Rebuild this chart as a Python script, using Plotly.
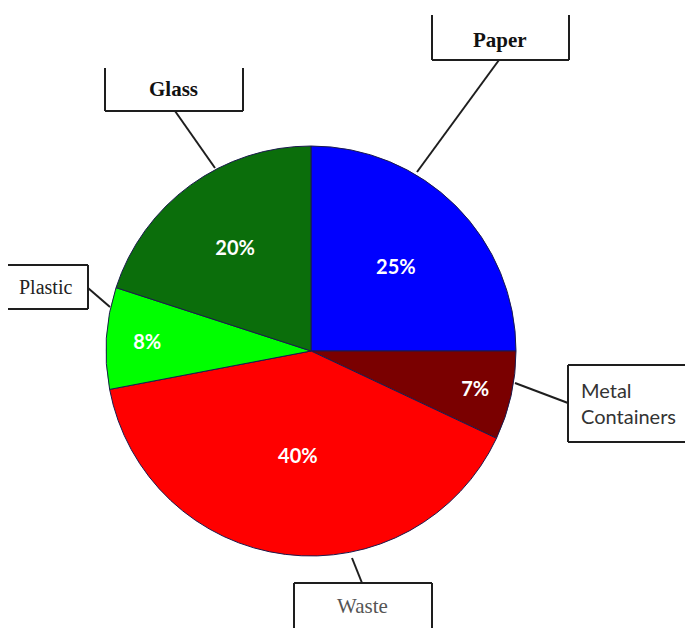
import plotly.graph_objects as go

labels = ["Paper", "Metal Containers", "Waste", "Plastic", "Glass"]
values = [25, 7, 40, 8, 20]
colors = ["#0000FF", "#7A0000", "#FF0000", "#00FF00", "#0B6E0B"]

W, H = 685, 628


def px(x):
    return x / W


def py(y):
    return 1 - y / H


cx, cy, r = 311, 351, 205

fig = go.Figure(
    go.Pie(
        labels=labels,
        values=values,
        sort=False,
        direction="clockwise",
        rotation=0,
        marker=dict(colors=colors, line=dict(color="#1B1B4D", width=1)),
        texttemplate="%{value}%",
        textposition="inside",
        insidetextorientation="horizontal",
        textfont=dict(family="Lato", size=20, color="white", weight="bold"),
        hoverinfo="label+percent",
        domain=dict(x=[px(cx - r), px(cx + r)], y=[py(cy + r), py(cy - r)]),
        showlegend=False,
    )
)

shapes = []
LC = "#1E1E1E"


def seg(x0, y0, x1, y1, w=2):
    shapes.append(dict(type="line", xref="paper", yref="paper",
                       x0=px(x0), y0=py(y0), x1=px(x1), y1=py(y1),
                       line=dict(color=LC, width=w)))


# Paper box (open top)
seg(432, 15, 432, 60); seg(432, 60, 569, 60); seg(569, 15, 569, 60)
seg(499, 60, 417, 172)
# Glass box (open top)
seg(105, 68, 105, 111); seg(105, 111, 243, 111); seg(243, 68, 243, 111)
seg(175, 111, 215, 168)
# Plastic box (open left)
seg(8, 265, 88, 265); seg(88, 265, 88, 309); seg(8, 309, 88, 309)
seg(88, 288, 110, 307)
# Metal Containers box (open right)
seg(568, 365, 685, 365); seg(568, 365, 568, 442); seg(568, 442, 685, 442)
seg(568, 403, 515, 383)
# Waste box (open bottom)
seg(294, 583, 432, 583); seg(294, 583, 294, 628); seg(432, 583, 432, 628)
seg(362, 583, 352, 558)

annotations = [
    dict(text="<b>Paper</b>", x=px(500), y=py(40),
         font=dict(family="Liberation Serif", size=21, color="#111")),
    dict(text="<b>Glass</b>", x=px(174), y=py(89),
         font=dict(family="Liberation Serif", size=21, color="#111")),
    dict(text="Plastic", x=px(45), y=py(287),
         font=dict(family="Liberation Serif", size=20, color="#222")),
    dict(text="Metal<br>Containers", x=px(579), y=py(403), xanchor="left", align="left",
         font=dict(family="Lato", size=20, color="#333")),
    dict(text="Waste", x=px(362), y=py(606),
         font=dict(family="Liberation Serif", size=21, color="#555")),
]
for a in annotations:
    a.update(xref="paper", yref="paper", showarrow=False)
    a.setdefault("xanchor", "center")
    a["yanchor"] = "middle"

fig.update_layout(
    width=W, height=H,
    margin=dict(l=0, r=0, t=0, b=0),
    paper_bgcolor="white",
    plot_bgcolor="white",
    shapes=shapes,
    annotations=annotations,
)

fig.write_html("out.html")
